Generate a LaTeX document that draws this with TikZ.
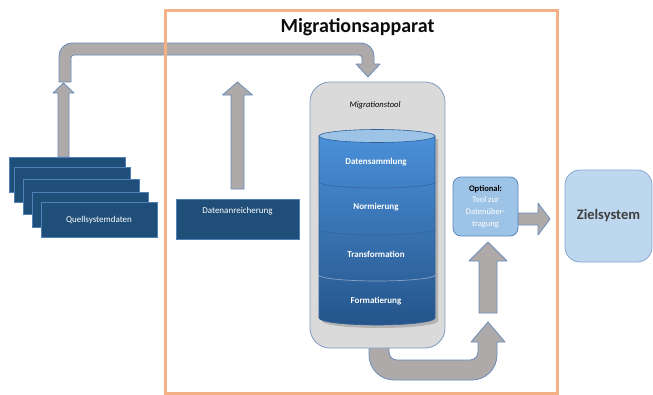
\documentclass[tikz,border=0pt]{standalone}
\usepackage{fontspec}
\setmainfont{Carlito}
\definecolor{arrowgray}{HTML}{AEAAAA}
\definecolor{arrowedge}{HTML}{6B8DBA}
\definecolor{darkbox}{HTML}{1F4E79}
\definecolor{darkedge}{HTML}{5080B5}
\definecolor{toolgray}{HTML}{DADADA}
\definecolor{tooledge}{HTML}{7E9CC2}
\definecolor{frameorange}{HTML}{F4B183}
\definecolor{optfill}{HTML}{9DC3E6}
\definecolor{optedge}{HTML}{5B87BD}
\definecolor{zielfill}{HTML}{BDD7EE}
\definecolor{zieledge}{HTML}{86A8D2}
\definecolor{cyltop}{HTML}{4A90D9}
\definecolor{cylbot}{HTML}{25558A}
\definecolor{cylcap}{HTML}{9DC3E6}
\definecolor{cyledge}{HTML}{2E6099}
\definecolor{divline}{HTML}{3566A0}
\definecolor{titletext}{HTML}{0D0D0D}
\definecolor{zieltext}{HTML}{3F3F3F}
\tikzset{
  blockarrow/.style={fill=arrowgray, draw=arrowedge, line width=0.8pt, line join=round},
  darkrect/.style={rectangle, fill=darkbox, draw=darkedge, line width=0.8pt,
    minimum width=116pt, minimum height=35.5pt, inner sep=0pt},
  smalltext/.style={font=\fontsize{9}{11}\selectfont},
  cyltext/.style={font=\fontsize{9}{11}\selectfont\bfseries, text=white},
  divider/.style={draw=divline, line width=0.7pt},
}
\newcommand{\uparrowshape}[6]{%
  % cx, ybottom, ybase, ytip, shaft half width, head half width
  \draw[blockarrow] ({#1-#5},#2) -- ({#1-#5},#3) -- ({#1-#6},#3) -- (#1,#4)
    -- ({#1+#6},#3) -- ({#1+#5},#3) -- ({#1+#5},#2) -- cycle;}
\begin{document}
\begin{tikzpicture}[x=1pt, y=-1pt]
\useasboundingbox (0,0) rectangle (653,394);
\fill[white] (0,0) rectangle (653,394);

% top bent arrow
\draw[blockarrow] (59,82) -- (59,56) arc[start angle=180, end angle=90, radius=13pt]
  -- (361,43) arc[start angle=90, end angle=0, radius=13pt]
  -- (374,64) -- (380,64) -- (368,77) -- (356,64) -- (362,64)
  -- (362,58) arc[start angle=0, end angle=90, radius=3pt]
  -- (74,55) arc[start angle=90, end angle=180, radius=3pt]
  -- (71,82) -- cycle;

% straight up arrows
\uparrowshape{63.5}{157}{93}{83}{5.5}{10.5}
\uparrowshape{237.5}{189}{95}{82}{6.5}{15}

% source data stack
\node[darkrect] (q1) at (67,174.75) {};
\node[darkrect] (q2) at (72,184.75) {};
\node[darkrect] (q3) at (81,196.75) {};
\node[darkrect] (q4) at (90,209.75) {};
\node[darkrect, smalltext, text=white] (q5) at (99,219.75) {Quellsystemdaten};

% Datenanreicherung
\node[darkrect, minimum width=123pt, minimum height=40pt] (dan) at (237.5,219) {};
\node[smalltext, text=white] (danlabel) at (237.5,211) {Datenanreicherung};

% bottom bent arrow
\draw[blockarrow] (369,340) -- (369,355) arc[start angle=180, end angle=270, radius=25pt]
  -- (472,380) arc[start angle=270, end angle=360, radius=25pt]
  -- (497,342) -- (505,342) -- (488,322) -- (471,342) -- (478,342)
  -- (478,352) arc[start angle=0, end angle=-90, radius=8pt]
  -- (397,360) arc[start angle=270, end angle=180, radius=8pt]
  -- (389,340) -- cycle;

% Migrationstool box
\node[rectangle, rounded corners=20pt, fill=toolgray, draw=tooledge, line width=0.8pt,
  minimum width=135pt, minimum height=266pt, inner sep=0pt] (tool) at (377.5,215) {};
\node[font=\fontsize{8.5}{10}\selectfont\itshape] (toollabel) at (375,105) {Migrationstool};

% cylinder
\fill[black, opacity=0.18] (322,139) -- (322,321) arc[start angle=180, end angle=360, x radius=58pt, y radius=7pt]
  -- (438,139) -- cycle;
\path[top color=cyltop, bottom color=cylbot, draw=cyledge, line width=0.6pt]
  (319,136) -- (319,318) arc[start angle=180, end angle=360, x radius=58pt, y radius=7pt]
  -- (435,136) -- cycle;
\filldraw[fill=cylcap, draw=cyledge, line width=0.6pt] (377,136) ellipse [x radius=58pt, y radius=6.5pt];
\draw[divider] (319,182) arc[start angle=180, end angle=360, x radius=58pt, y radius=6pt];
\draw[divider] (319,229) arc[start angle=180, end angle=360, x radius=58pt, y radius=6pt];
\draw[divider, draw=divline!60!white] (319,275) arc[start angle=180, end angle=360, x radius=58pt, y radius=6pt];
\node[cyltext] (c1) at (376,162) {Datensammlung};
\node[cyltext] (c2) at (376,207) {Normierung};
\node[cyltext] (c3) at (376,254) {Transformation};
\node[cyltext] (c4) at (376,301) {Formatierung};

% arrows to optional / target
\uparrowshape{488}{313}{261}{242}{9}{19}
\draw[blockarrow] (518,213) -- (538,213) -- (538,203) -- (550,219) -- (538,235)
  -- (538,225) -- (518,225) -- cycle;

% optional tool
\node[rectangle, rounded corners=8pt, fill=optfill, draw=optedge, line width=0.8pt,
  minimum width=65pt, minimum height=59pt, inner sep=0pt, align=center,
  font=\fontsize{8.5}{11.7}\selectfont] (opt) at (485.5,206.5)
  {\textbf{Optional:}\\\textcolor{white}{Tool zur}\\\textcolor{white}{Datenüber-}\\\textcolor{white}{tragung}};

% target system
\node[rectangle, rounded corners=15pt, fill=zielfill, draw=zieledge, line width=0.8pt,
  minimum width=87pt, minimum height=92pt, inner sep=0pt,
  font=\fontsize{14.5}{16}\selectfont\bfseries, text=zieltext] (ziel) at (608.5,216) {Zielsystem};

% frame and title
\draw[frameorange, line width=3pt] (165.5,10) rectangle (557,393);
\node[anchor=base, font=\fontsize{20}{24}\selectfont\bfseries, text=titletext] (title) at (357.5,32) {Migrationsapparat};
\end{tikzpicture}
\end{document}
